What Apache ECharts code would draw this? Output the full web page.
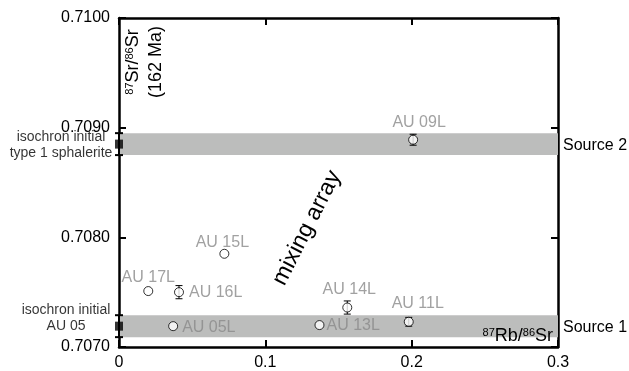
<!DOCTYPE html>
<html>
<head>
<meta charset="utf-8">
<script src="https://cdn.jsdelivr.net/npm/echarts@6/dist/echarts.min.js"></script>
<style>
  html, body { margin: 0; padding: 0; background: #fff; }
  #chart { width: 629px; height: 371px; }
</style>
</head>
<body>
<div id="chart"></div>
<script>
// Leachate samples: 87Rb/86Sr against 87Sr/86Sr recalculated to 162 Ma
const sampleNames = ['AU 05L', 'AU 09L', 'AU 11L', 'AU 13L', 'AU 14L', 'AU 15L', 'AU 16L', 'AU 17L'];
const rbSr = [0.037, 0.201, 0.198, 0.137, 0.156, 0.072, 0.041, 0.020];
const srSr = [0.70719, 0.70889, 0.70723, 0.70720, 0.70736, 0.70785, 0.70750, 0.70751];
const srErr = [0, 0.00005, 0.00004, 0, 0.00006, 0, 0.00006, 0];

// End-members of the mixing array (isochron initial ratios and 2-sigma)
const sourceNames = ['Source 1', 'Source 2'];
const sourceSr = [0.70719, 0.70885];
const sourceErr = [0.0001, 0.0001];
const sourceNotes = ['isochron initial\nAU 05', 'isochron initial\ntype 1 sphalerite'];

// Axis ticks
const xTicks = [0, 0.1, 0.2, 0.3];
const yTicks = [0.7070, 0.7080, 0.7090, 0.7100];

const FONT = '"Liberation Sans", Arial, Helvetica, sans-serif';
const GREY_TEXT = '#8a8a8a';
const BAND = '#bcbdbc';

// Where each sample's name sits around its symbol
const labelPlacement = {
  'AU 05L': { position: 'right', distance: 4, offset: [0, 1] },
  'AU 09L': { position: 'top', distance: 4, offset: [6, 0] },
  'AU 11L': { position: 'top', distance: 5, offset: [9, 0] },
  'AU 13L': { position: 'right', distance: 2, offset: [0, 1] },
  'AU 14L': { position: 'top', distance: 5, offset: [2, 0] },
  'AU 15L': { position: 'top', distance: -2, offset: [-2, 0] },
  'AU 16L': { position: 'right', distance: 5, offset: [0, 0] },
  'AU 17L': { position: 'top', distance: 0, offset: [0, 0] }
};
const notePlacement = [
  { distance: 49, offset: [0, -8] },
  { distance: 54, offset: [0, 1] }
];

const chart = echarts.init(document.getElementById('chart'), null, { renderer: 'canvas' });

const xMin = xTicks[0], xMax = xTicks[xTicks.length - 1];
const yMin = yTicks[0], yMax = yTicks[yTicks.length - 1];

function valueAxis(common) {
  return Object.assign({
    type: 'value',
    axisLine: { show: true, onZero: false, lineStyle: { color: '#000', width: 2.5 } },
    axisTick: { show: true, inside: true, length: 7, lineStyle: { color: '#000', width: 2 } },
    splitLine: { show: false }
  }, common);
}

// Vertical error bar with caps, drawn through the axis scales
function errorBar(capHalf, width) {
  return function (params, api) {
    const x = api.value(0), y = api.value(1), e = api.value(2);
    if (!e) return null;
    const hi = api.coord([x, y + e]);
    const lo = api.coord([x, y - e]);
    const st = { stroke: '#000', lineWidth: width };
    return {
      type: 'group',
      children: [
        { type: 'line', shape: { x1: hi[0], y1: hi[1], x2: lo[0], y2: lo[1] }, style: st },
        { type: 'line', shape: { x1: hi[0] - capHalf, y1: hi[1], x2: hi[0] + capHalf, y2: hi[1] }, style: st },
        { type: 'line', shape: { x1: lo[0] - capHalf, y1: lo[1], x2: lo[0] + capHalf, y2: lo[1] }, style: st }
      ]
    };
  };
}

const option = {
  animation: false,
  backgroundColor: '#fff',
  textStyle: { fontFamily: FONT },
  grid: { left: 119, right: 71, top: 18, bottom: 24, containLabel: false },
  xAxis: [
    valueAxis({
      position: 'bottom', min: xMin, max: xMax, interval: xTicks[1] - xTicks[0],
      axisLabel: { color: '#000', fontSize: 16, margin: 8, fontFamily: FONT,
        formatter: v => String(Math.round(v * 10) / 10) }
    }),
    valueAxis({
      position: 'top', min: xMin, max: xMax, interval: xTicks[1] - xTicks[0],
      axisLabel: { show: false }
    })
  ],
  yAxis: [
    valueAxis({
      position: 'left', min: yMin, max: yMax, interval: 0.001,
      axisLabel: { color: '#000', fontSize: 16, margin: 9, fontFamily: FONT,
        formatter: v => v.toFixed(4) }
    }),
    valueAxis({
      position: 'right', min: yMin, max: yMax, interval: 0.001,
      axisLabel: { show: false }
    })
  ],
  series: [
    // Source bands spanning the full Rb/Sr range
    {
      type: 'custom',
      name: 'sources',
      z: 1,
      clip: false,
      encode: { x: 0, y: 1 },
      data: sourceSr.map((s, i) => [xMin, s, sourceErr[i], i]),
      renderItem: function (params, api) {
        const s = api.value(1), e = api.value(2), i = api.value(3);
        const p1 = api.coord([xMin, s + e]);
        const p2 = api.coord([xMax, s - e]);
        const mid = api.coord([xMax, s]);
        return {
          type: 'group',
          children: [
            { type: 'rect', shape: { x: p1[0], y: p1[1], width: p2[0] - p1[0], height: p2[1] - p1[1] },
              style: { fill: BAND } },
            { type: 'text', x: mid[0] + 5, y: mid[1] + 1,
              style: { text: sourceNames[i], fill: '#000', fontSize: 16, fontFamily: FONT,
                       align: 'left', verticalAlign: 'middle' } }
          ]
        };
      }
    },
    // Error bars on the isochron initial ratios
    {
      type: 'custom',
      name: 'source errors',
      z: 5,
      clip: false,
      encode: { x: 0, y: 1 },
      data: sourceSr.map((s, i) => [xMin, s, sourceErr[i]]),
      renderItem: errorBar(4, 2)
    },
    // Isochron initial ratios plotted on the y axis
    {
      type: 'scatter',
      name: 'isochron initial',
      z: 6,
      clip: false,
      symbol: 'rect',
      symbolSize: [8, 9],
      itemStyle: { color: '#000' },
      data: sourceSr.map((s, i) => ({
        value: [xMin, s],
        label: {
          show: true,
          position: 'left',
          align: 'center',
          distance: notePlacement[i].distance,
          offset: notePlacement[i].offset,
          formatter: sourceNotes[i],
          color: '#000',
          fontSize: 14,
          lineHeight: 16,
          fontFamily: FONT
        }
      }))
    },
    // Sample error bars
    {
      type: 'custom',
      name: 'sample errors',
      z: 3,
      encode: { x: 0, y: 1 },
      data: rbSr.map((x, i) => [x, srSr[i], srErr[i]]),
      renderItem: errorBar(3.5, 1)
    },
    // Samples
    {
      type: 'scatter',
      name: 'samples',
      z: 4,
      symbol: 'circle',
      symbolSize: 9,
      itemStyle: { color: '#fff', borderColor: '#000', borderWidth: 1 },
      data: rbSr.map((x, i) => ({
        value: [x, srSr[i]],
        name: sampleNames[i],
        label: Object.assign({
          show: true,
          formatter: sampleNames[i],
          color: GREY_TEXT,
          fontSize: 16,
          fontFamily: FONT
        }, labelPlacement[sampleNames[i]])
      }))
    }
  ],
  graphic: [
    {
      type: 'text', x: 133, y: 62, rotation: Math.PI / 2, z: 10,
      style: {
        text: '{sup|87}{b|Sr/}{sup|86}{b|Sr}',
        align: 'center', verticalAlign: 'middle', fill: '#000', fontFamily: FONT, fontSize: 18,
        rich: {
          sup: { fontSize: 11, verticalAlign: 'top', fill: '#000', fontFamily: FONT },
          b: { fontSize: 18, fill: '#000', fontFamily: FONT }
        }
      }
    },
    {
      type: 'text', x: 156, y: 62, rotation: Math.PI / 2, z: 10,
      style: { text: '(162 Ma)', align: 'center', verticalAlign: 'middle', fill: '#000',
               fontFamily: FONT, fontSize: 18 }
    },
    {
      type: 'text', x: 553, y: 336, z: 10,
      style: {
        text: '{sup|87}{b|Rb/}{sup|86}{b|Sr}',
        align: 'right', verticalAlign: 'middle', fill: '#000', fontFamily: FONT, fontSize: 18,
        rich: {
          sup: { fontSize: 11, verticalAlign: 'top', fill: '#000', fontFamily: FONT },
          b: { fontSize: 18, fill: '#000', fontFamily: FONT }
        }
      }
    },
    {
      type: 'text', x: 307, y: 228, rotation: 63 * Math.PI / 180, z: 10,
      style: { text: 'mixing array', align: 'center', verticalAlign: 'middle', fill: '#000',
               fontFamily: FONT, fontSize: 23 }
    }
  ]
};

chart.setOption(option);
</script>
</body>
</html>
